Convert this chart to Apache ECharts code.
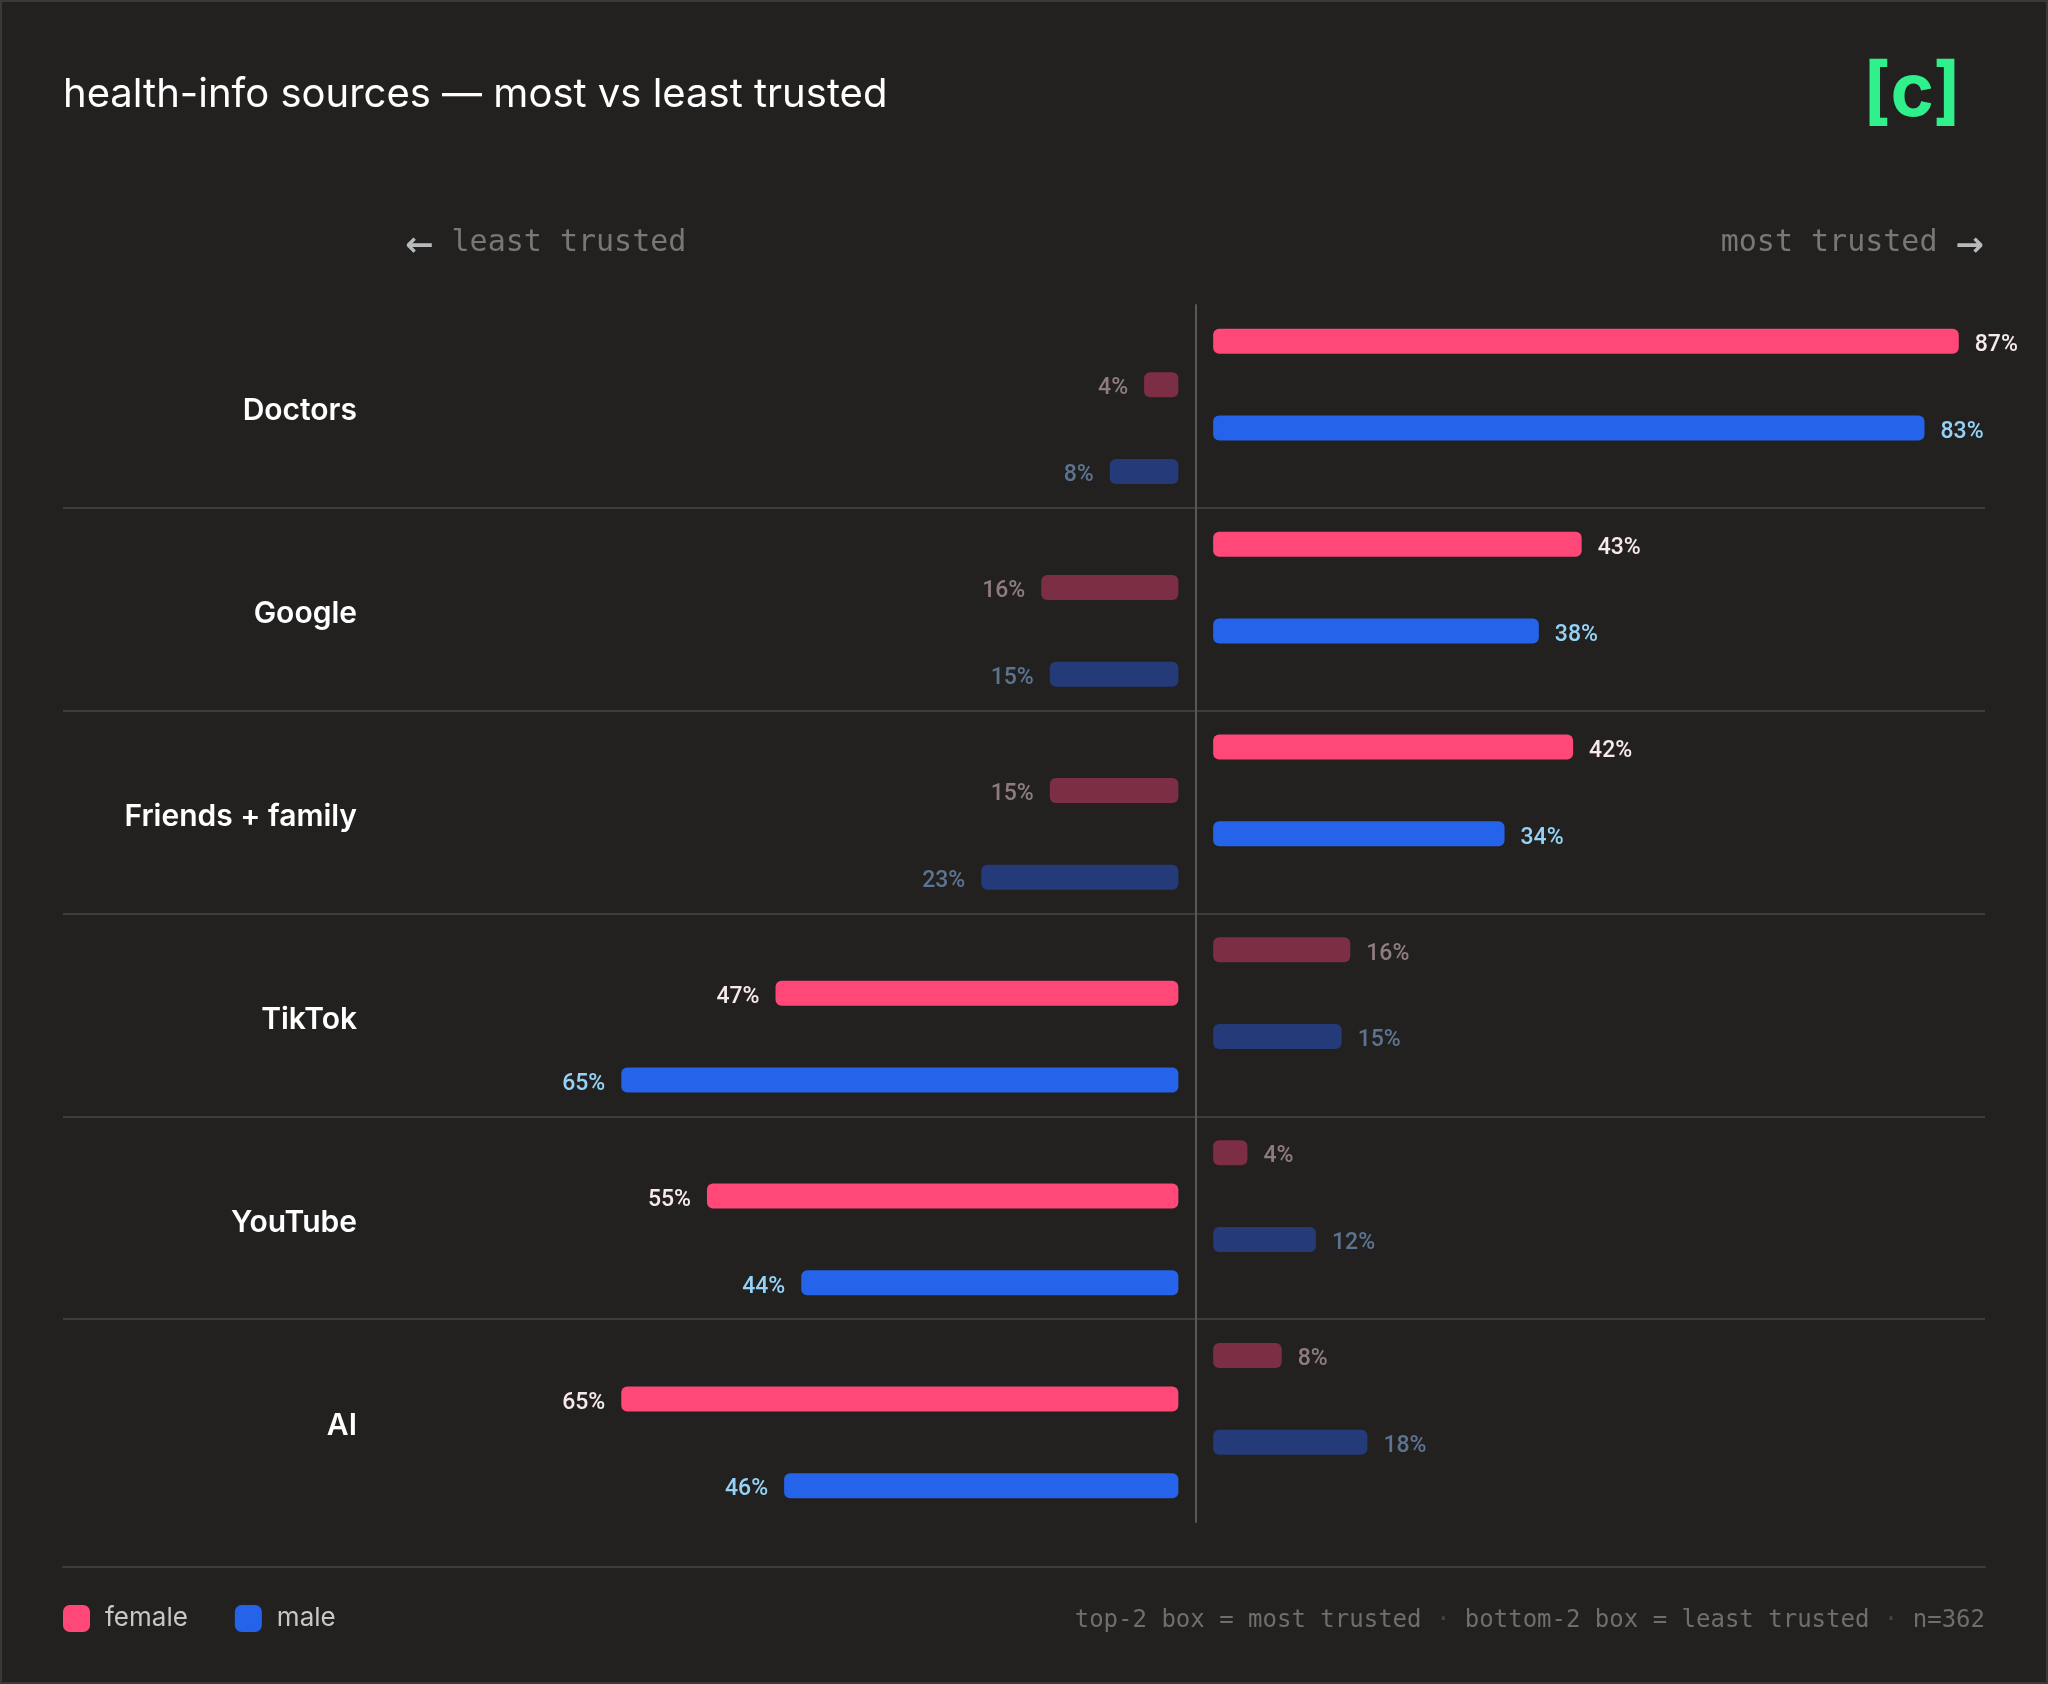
<!DOCTYPE html>
<html>
<head>
<meta charset="utf-8">
<script src="https://cdn.jsdelivr.net/npm/echarts@6/dist/echarts.min.js"></script>
<style>
html, body { margin: 0; padding: 0; background: #222120; }
#chart { width: 2048px; height: 1684px; }
#frame { position: absolute; left: 0; top: 0; width: 2048px; height: 1684px; box-sizing: border-box; border: 2px solid #3a3938; pointer-events: none; }
</style>
</head>
<body>
<div id="chart"></div>
<div id="frame"></div>
<script>
// data
const sources = ['Doctors', 'Google', 'Friends + family', 'TikTok', 'YouTube', 'AI'];
const mostFemale = [87, 43, 42, 16, 4, 8];
const mostMale = [83, 38, 34, 15, 12, 18];
const leastFemale = [4, 16, 15, 47, 55, 65];
const leastMale = [8, 15, 23, 65, 44, 46];

const palette = {
    female: { bright: '#ff4778', dim: '#7c2e45', labelBright: '#f7e9ed', labelDim: '#8e7c81' },
    male: { bright: '#2563eb', dim: '#243a79', labelBright: '#94d3f7', labelDim: '#5c7491' }
};

// which side wins in each row -> that side is drawn bright
const dominant = sources.map((s, i) =>
    mostFemale[i] + mostMale[i] >= leastFemale[i] + leastMale[i] ? 'most' : 'least');

// bar slots top to bottom inside a row
const slots = [
    { gender: 'female', side: 'most', values: mostFemale },
    { gender: 'female', side: 'least', values: leastFemale },
    { gender: 'male', side: 'most', values: mostMale },
    { gender: 'male', side: 'least', values: leastMale }
];
const sides = ['least', 'most']; // grid 0 = left, grid 1 = right

let series = [];
sides.forEach((side, g) => {
    slots.forEach(slot => {
        const col = palette[slot.gender];
        series.push({
            type: 'bar',
            name: slot.gender,
            xAxisIndex: g,
            yAxisIndex: g,
            barWidth: 25,
            barGap: '73.6%',
            itemStyle: { color: col.bright, borderRadius: 6 },
            label: {
                show: true,
                position: side === 'least' ? 'left' : 'right',
                distance: 16,
                offset: [0, 4],
                fontFamily: 'Roboto',
                fontSize: 23,
                fontWeight: 500,
                formatter: '{c}%'
            },
            data: slot.values.map((v, i) => {
                if (slot.side !== side) return '-';
                const lit = dominant[i] === side;
                return {
                    value: v,
                    itemStyle: { color: lit ? col.bright : col.dim },
                    label: { color: lit ? col.labelBright : col.labelDim }
                };
            })
        });
    });
});

const mono = 'DejaVu Sans Mono';
const arrowStyle = { color: '#b8bbbc', fontFamily: 'DejaVu Sans', fontSize: 34, fontWeight: 'bold', padding: [8, 0, 0, 0] };
const headStyle = { color: '#777775', fontFamily: mono, fontSize: 30, fontWeight: 'normal' };

const chart = echarts.init(document.getElementById('chart'));
chart.setOption({
    backgroundColor: '#222120',
    animation: false,
    title: [
        {
            text: 'health-info sources — most vs least trusted',
            left: 63, top: 75, padding: 0,
            textStyle: { color: '#ffffff', fontFamily: 'Inter', fontSize: 40, fontWeight: 400 }
        },
        {
            text: '{a|←}{b| least trusted}',
            left: 405, top: 222, padding: 0,
            textStyle: { fontFamily: mono, fontSize: 30, fontWeight: 'normal', rich: { a: arrowStyle, b: headStyle } }
        },
        {
            text: '{b|most trusted }{a|→}',
            right: 64, top: 222, padding: 0,
            textStyle: { fontFamily: mono, fontSize: 30, fontWeight: 'normal', rich: { a: arrowStyle, b: headStyle } }
        },
        {
            text: '{t|top-2 box = most trusted}{d| · }{t|bottom-2 box = least trusted}{d| · }{t|n=362}',
            right: 63, top: 1609, padding: 0,
            textStyle: {
                fontFamily: mono, fontSize: 24, fontWeight: 'normal',
                rich: {
                    t: { color: '#6e6e6c', fontFamily: mono, fontSize: 24, fontWeight: 'normal' },
                    d: { color: '#444442', fontFamily: mono, fontSize: 24, fontWeight: 'normal' }
                }
            }
        }
    ],
    legend: {
        data: ['female', 'male'],
        left: 63, top: 1605, padding: 0,
        icon: 'roundRect',
        itemWidth: 27, itemHeight: 27, itemGap: 47,
        textStyle: { color: '#c8c8c6', fontFamily: 'Inter', fontSize: 26, padding: [0, 0, 0, 10] },
        selectedMode: false
    },
    graphic: [
        {
            type: 'text',
            style: {
                text: '[c]', x: 1912, y: 94,
                textAlign: 'center', textVerticalAlign: 'middle',
                fill: '#30f08c', font: '700 74px Inter'
            }
        }
    ],
    grid: [
        { left: 407, width: 788.5, top: 305, height: 1217 },
        { left: 1196, width: 788.5, top: 305, height: 1217 },
        { left: 63, right: 63, top: 305, height: 1217 }
    ],
    xAxis: [
        { gridIndex: 0, type: 'value', inverse: true, min: -2, max: 90, show: false },
        { gridIndex: 1, type: 'value', min: -2, max: 90, show: false },
        {
            gridIndex: 2, type: 'value', min: 0, max: 1, position: 'bottom', offset: 45,
            axisLine: { show: true, onZero: false, lineStyle: { color: '#3e3d3b', width: 2 } },
            axisTick: { show: false }, axisLabel: { show: false }, splitLine: { show: false }
        }
    ],
    yAxis: [
        {
            gridIndex: 0, type: 'category', data: sources, inverse: true, position: 'left',
            axisLine: { show: false, onZero: false }, axisTick: { show: false },
            axisLabel: {
                margin: 50, formatter: '{n|{value}}',
                rich: { n: { color: '#ffffff', fontFamily: 'Inter', fontSize: 30, fontWeight: 600, padding: [10, 0, 0, 0] } }
            }
        },
        {
            gridIndex: 1, type: 'category', data: sources, inverse: true, position: 'left',
            axisLine: { show: true, onZero: false, lineStyle: { color: '#595856', width: 2 } },
            axisTick: { show: false }, axisLabel: { show: false }
        },
        {
            gridIndex: 2, type: 'category', data: sources, inverse: true,
            axisLine: { show: false }, axisTick: { show: false }, axisLabel: { show: false },
            splitLine: { show: true, showMinLine: false, showMaxLine: false, lineStyle: { color: '#3e3d3b', width: 2 } }
        }
    ],
    series: series
});
</script>
</body>
</html>
